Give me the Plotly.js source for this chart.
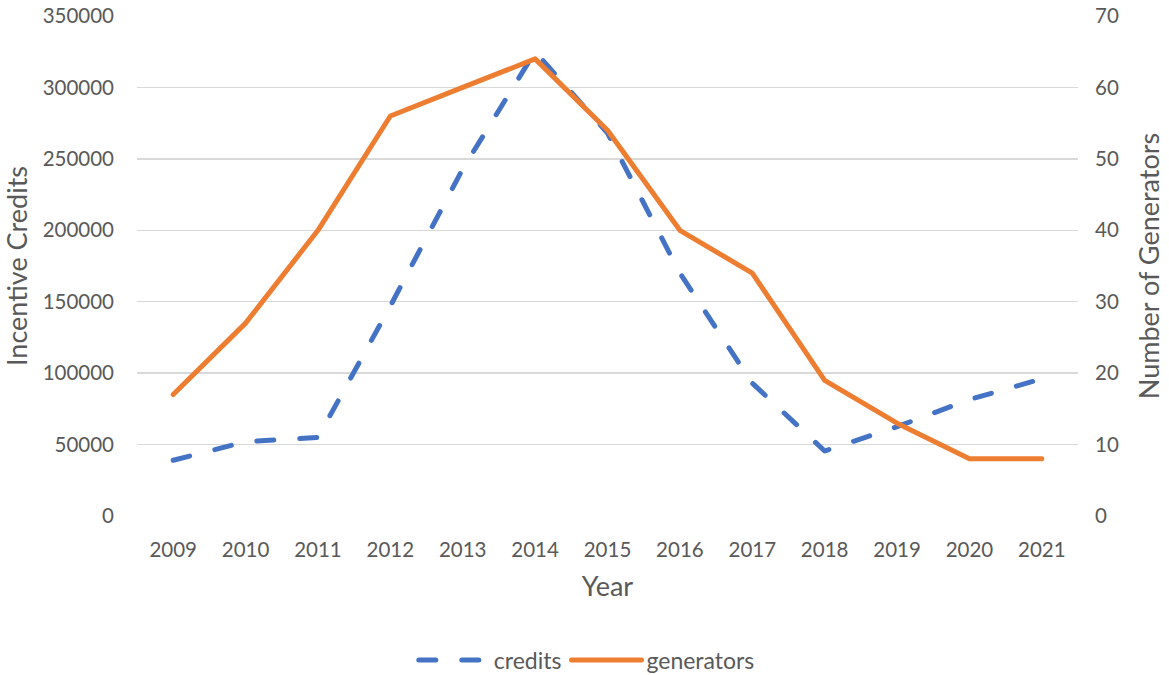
<!DOCTYPE html>
<html>
<head>
<meta charset="utf-8">
<script src="https://cdn.plot.ly/plotly-3.0.1.min.js"></script>
<style>
  html, body { margin: 0; padding: 0; background: #fff; }
  #chart { width: 1169px; height: 675px; }
  path.js-line { stroke-linecap: round; stroke-linejoin: round; }
</style>
</head>
<body>
<div id="chart"></div>
<script>
const years = ["2009","2010","2011","2012","2013","2014","2015","2016","2017","2018","2019","2020","2021"];
const credits = [39000, 52000, 55000, 147000, 243000, 325000, 268000, 170000, 93000, 45500, 62500, 81500, 96000];
const generators = [17, 27, 40, 56, 60, 64, 54, 40, 34, 19, 13, 8, 8];
const leftTicks = [0, 50000, 100000, 150000, 200000, 250000, 300000, 350000];
const rightTicks = [0, 10, 20, 30, 40, 50, 60, 70];

const FONT = "Lato, 'Open Sans', sans-serif";
const TXT = "#595959";

const traces = [
  {
    x: years, y: credits, name: "credits", type: "scatter", mode: "lines",
    yaxis: "y",
    line: { color: "#4472C4", width: 5, dash: "17px,26px" }
  },
  {
    x: years, y: generators, name: "generators", type: "scatter", mode: "lines",
    yaxis: "y2",
    line: { color: "#ED7D31", width: 5 }
  }
];

const layout = {
  width: 1169, height: 675,
  margin: { l: 137, r: 91, t: 16, b: 159, autoexpand: false },
  paper_bgcolor: "#fff", plot_bgcolor: "#fff",
  font: { family: FONT, color: TXT, size: 20 },
  showlegend: true,
  legend: {
    orientation: "h", x: 0.478, xanchor: "center", y: -0.288, yanchor: "middle",
    font: { family: FONT, size: 23, color: TXT }, itemwidth: 70
  },
  xaxis: {
    type: "category",
    range: [-0.5, 12.5],
    showgrid: false, zeroline: false, showline: false, ticks: "",
    tickfont: { family: FONT, size: 20.5, color: TXT },
    ticklabelstandoff: 19,
    title: { text: "Year", font: { family: FONT, size: 27, color: TXT }, standoff: 17 }
  },
  yaxis: {
    range: [0, 350000],
    tickvals: leftTicks, ticktext: leftTicks.map(String),
    showgrid: true, gridcolor: "#D9D9D9", gridwidth: 1.3,
    zeroline: false, showline: false, ticks: "",
    tickfont: { family: FONT, size: 20.5, color: TXT },
    ticklabelstandoff: 22,
    title: { text: "Incentive Credits", font: { family: FONT, size: 27, color: TXT }, standoff: 8 }
  },
  yaxis2: {
    range: [0, 70], overlaying: "y", side: "right",
    tickvals: rightTicks, ticktext: rightTicks.map(String),
    showgrid: false, zeroline: false, showline: false, ticks: "",
    tickfont: { family: FONT, size: 20.5, color: TXT },
    ticklabelstandoff: 16,
    title: { text: "Number of Generators", font: { family: FONT, size: 27, color: TXT }, standoff: 22 }
  }
};

Plotly.newPlot("chart", traces, layout, { displayModeBar: false, staticPlot: true });
</script>
</body>
</html>
